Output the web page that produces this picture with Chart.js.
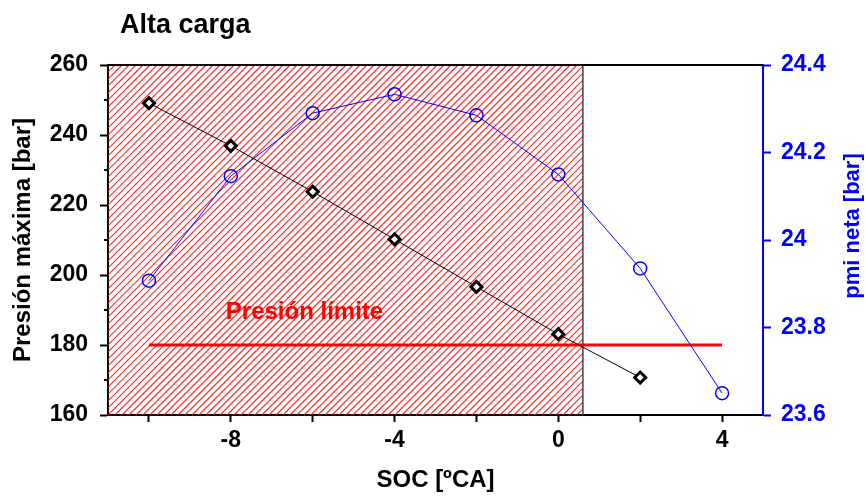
<!DOCTYPE html>
<html>
<head>
<meta charset="utf-8">
<script src="https://cdn.jsdelivr.net/npm/chart.js@4.4.1/dist/chart.umd.min.js"></script>
<style>
  body { margin: 0; background: #ffffff; }
</style>
</head>
<body>
<canvas id="myChart" width="866" height="497"></canvas>
<script>
// datos
const socValues = [-10, -8, -6, -4, -2, 0, 2, 4];
const presionMaxima = [249.1, 236.9, 223.8, 210.2, 196.6, 183.1, 170.7];
const pmiNeta = [23.907, 24.146, 24.290, 24.333, 24.285, 24.150, 23.935, 23.650];
const presionLimite = 180;
const limiteX = [-10, 4];
const zonaRayada = [-11, 0.6];

const xTicks = [-10, -8, -6, -4, -2, 0, 2, 4];
const xTickLabels = ['', '-8', '', '-4', '', '0', '', '4'];
const yTicks = [160, 180, 200, 220, 240, 260];
const yMinorTicks = [170, 190, 210, 230, 250];
const y1Ticks = [23.6, 23.8, 24, 24.2, 24.4];
const y1TickLabels = ['23.6', '23.8', '24', '24.2', '24.4'];

const fontFam = "'Liberation Sans', Arial, sans-serif";
Chart.defaults.font.family = fontFam;

// rayado, marco y textos extra
const decor = {
    id: 'decor',
    beforeDatasetsDraw(chart) {
        const ctx = chart.ctx;
        const area = chart.chartArea;
        const xs = chart.scales.x;
        const x0 = xs.getPixelForValue(zonaRayada[0]);
        const x1 = xs.getPixelForValue(zonaRayada[1]);
        const h = area.bottom - area.top;
        ctx.save();
        ctx.beginPath();
        ctx.rect(x0, area.top, x1 - x0, h);
        ctx.clip();
        ctx.strokeStyle = 'rgba(255,0,0,0.85)';
        ctx.lineWidth = 1.2;
        ctx.beginPath();
        for (let c = x0 - h; c < x1 + 7; c += 7) {
            ctx.moveTo(c, area.bottom);
            ctx.lineTo(c + h, area.top);
        }
        ctx.stroke();
        ctx.restore();

        ctx.save();
        ctx.strokeStyle = '#404040';
        ctx.lineWidth = 1.5;
        ctx.beginPath();
        ctx.moveTo(x1, area.top);
        ctx.lineTo(x1, area.bottom);
        ctx.stroke();
        // linea superior del marco
        ctx.strokeStyle = 'black';
        ctx.lineWidth = 2;
        ctx.beginPath();
        ctx.moveTo(area.left, area.top);
        ctx.lineTo(area.right, area.top);
        ctx.stroke();
        ctx.restore();
    },
    afterDraw(chart) {
        const ctx = chart.ctx;
        const xs = chart.scales.x;
        const ys = chart.scales.y;
        const y1 = chart.scales.y1;
        ctx.save();
        // ticks menores del eje izquierdo
        ctx.strokeStyle = 'black';
        ctx.lineWidth = 2;
        yMinorTicks.forEach(v => {
            const py = Math.round(ys.getPixelForValue(v));
            ctx.beginPath();
            ctx.moveTo(ys.right - 4, py);
            ctx.lineTo(ys.right, py);
            ctx.stroke();
        });
        // etiqueta de la linea limite
        ctx.fillStyle = 'red';
        ctx.font = 'bold 24px ' + fontFam;
        ctx.textAlign = 'center';
        ctx.textBaseline = 'alphabetic';
        ctx.fillText('Presión límite', xs.getPixelForValue(-6.2), ys.getPixelForValue(187.4));
        // titulo
        ctx.fillStyle = 'black';
        ctx.font = 'bold 27px ' + fontFam;
        ctx.textAlign = 'left';
        ctx.fillText('Alta carga', 120, 33);
        // titulo eje derecho
        ctx.fillStyle = 'blue';
        ctx.font = 'bold 22px ' + fontFam;
        ctx.textAlign = 'center';
        ctx.textBaseline = 'middle';
        ctx.translate(y1.right - 13, 226);
        ctx.rotate(-Math.PI / 2);
        ctx.fillText('pmi neta [bar]', 0, 0);
        ctx.restore();
    }
};

const ctx = document.getElementById('myChart').getContext('2d');
const myChart = new Chart(ctx, {
    type: 'line',
    data: {
        datasets: [
            {
                label: 'Presión máxima',
                data: presionMaxima.map((v, i) => ({x: socValues[i], y: v})),
                yAxisID: 'y',
                borderColor: 'black',
                borderWidth: 1,
                pointStyle: 'rectRot',
                pointRadius: 5.5,
                pointBorderWidth: 3,
                pointBorderColor: 'black',
                pointBackgroundColor: 'white',
                tension: 0
            },
            {
                label: 'pmi neta',
                data: pmiNeta.map((v, i) => ({x: socValues[i], y: v})),
                yAxisID: 'y1',
                borderColor: 'blue',
                borderWidth: 1,
                pointStyle: 'circle',
                pointRadius: 6.5,
                pointBorderWidth: 1.5,
                pointBorderColor: 'blue',
                pointBackgroundColor: 'rgba(0,0,0,0)',
                tension: 0
            },
            {
                label: 'Presión límite',
                data: limiteX.map(x => ({x: x, y: presionLimite})),
                yAxisID: 'y',
                borderColor: 'red',
                borderWidth: 3,
                pointRadius: 0
            }
        ]
    },
    options: {
        responsive: false,
        animation: false,
        layout: {padding: {top: 65, left: 0, right: 0, bottom: 0}},
        plugins: {legend: {display: false}, tooltip: {enabled: false}},
        scales: {
            x: {
                type: 'linear',
                position: 'bottom',
                min: -11, max: 5,
                afterBuildTicks: s => { s.ticks = xTicks.map(v => ({value: v})); },
                afterFit: s => { s.height = 82; },
                ticks: {
                    callback: (v, i) => xTickLabels[i],
                    font: {size: 23, weight: 'bold'},
                    color: 'black',
                    padding: 5,
                    maxRotation: 0,
                    autoSkip: false
                },
                grid: {drawOnChartArea: false, drawTicks: true, tickLength: 7, tickColor: 'black', tickWidth: 2},
                border: {color: 'black', width: 2},
                title: {display: true, text: 'SOC [ºCA]', color: 'black', font: {size: 24, weight: 'bold'}, padding: {top: 0, bottom: 2}}
            },
            y: {
                type: 'linear',
                position: 'left',
                min: 160, max: 260,
                afterBuildTicks: s => { s.ticks = yTicks.map(v => ({value: v})); },
                afterFit: s => { s.width = 108; },
                ticks: {font: {size: 23, weight: 'bold'}, color: 'black', padding: 12},
                grid: {drawOnChartArea: false, drawTicks: true, tickLength: 8, tickColor: 'black', tickWidth: 2},
                border: {color: 'black', width: 2},
                title: {display: true, text: 'Presión máxima [bar]', color: 'black', font: {size: 24, weight: 'bold'}, padding: {top: 9, bottom: 0}}
            },
            y1: {
                type: 'linear',
                position: 'right',
                min: 23.6, max: 24.4,
                afterBuildTicks: s => { s.ticks = y1Ticks.map(v => ({value: v})); },
                afterFit: s => { s.width = 103; },
                ticks: {
                    callback: (v, i) => y1TickLabels[i],
                    font: {size: 23, weight: 'bold'},
                    color: 'blue',
                    padding: 10
                },
                grid: {drawOnChartArea: false, drawTicks: true, tickLength: 8, tickColor: 'blue', tickWidth: 2},
                border: {color: 'blue', width: 2}
            }
        }
    },
    plugins: [decor]
});
</script>
</body>
</html>
